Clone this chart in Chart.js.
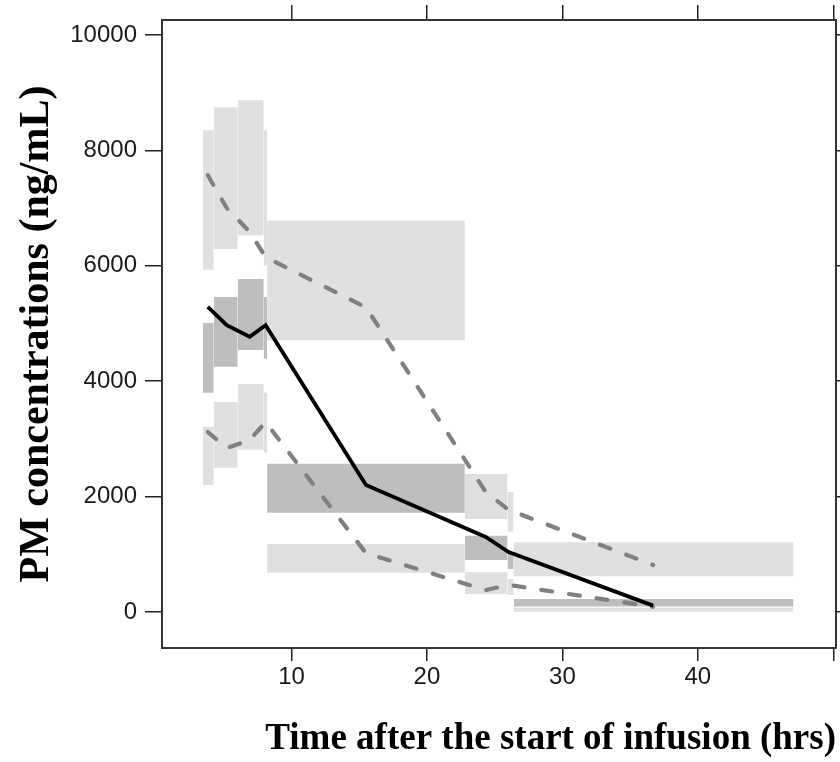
<!DOCTYPE html>
<html>
<head>
<meta charset="utf-8">
<script src="https://cdn.jsdelivr.net/npm/chart.js@4.4.1/dist/chart.umd.min.js"></script>
<style>
  html, body { margin: 0; padding: 0; background: #fff; }
</style>
</head>
<body>
<canvas id="vpcChart" width="840" height="762"></canvas>
<script>
// time bins (hrs)
const binStart = [3.46, 4.26, 6.03, 7.95, 8.2, 22.8, 25.95, 26.4];
const binEnd   = [4.26, 6.03, 7.95, 8.2, 22.8, 25.95, 26.4, 47.06];

// CI of simulated 95th percentile
const upperCiHi = [8350, 8750, 8870, 8350, 6780, 2390, 2080, 1210];
const upperCiLo = [5930, 6290, 6530, 6000, 4710, 1610, 1390, 620];
// CI of simulated median
const medianCiHi = [5010, 5460, 5770, 5460, 2570, 1320, 1020, 225];
const medianCiLo = [3800, 4250, 4540, 4390, 1720, 900, 745, 95];
// CI of simulated 5th percentile
const lowerCiHi = [3210, 3640, 3950, 3800, 1180, 690, 570, 75];
const lowerCiLo = [2200, 2500, 2810, 2760, 680, 310, 295, 5];

// observed percentiles
const obsTime   = [3.82, 5.22, 6.91, 8.09, 15.5, 24.34, 26.03, 36.7];
const obsP95    = [7570, 7000, 6590, 6150, 5280, 2080, 1770, 815];
const obsMedian = [5290, 4970, 4770, 4970, 2200, 1300, 1040, 110];
const obsP5     = [3120, 2840, 2980, 3290, 1020, 380, 470, 90];

// axis ticks
const xTicks = [10, 20, 30, 40, 50];
const xTickLabels = ['10', '20', '30', '40', ''];
const yTicks = [0, 2000, 4000, 6000, 8000, 10000];

const lightGrey = 'rgb(224,224,224)';
const darkGrey = 'rgb(190,190,190)';

const datasets = [];
function toPoints(xs, ys) {
    return xs.map((x, i) => ({ x: x, y: ys[i] }));
}
// observed lines on top
datasets.push({
    data: toPoints(obsTime, obsMedian),
    borderColor: '#000', borderWidth: 3.8,
    pointRadius: 0, showLine: true, fill: false, order: 0
});
[obsP95, obsP5].forEach(vals => {
    datasets.push({
        data: toPoints(obsTime, vals),
        borderColor: 'rgb(128,128,128)', borderWidth: 4.2,
        borderDash: [11, 17], borderCapStyle: 'round',
        pointRadius: 0, showLine: true, fill: false, order: 1
    });
});
// shaded boxes
function addBoxes(lo, hi, colour) {
    binStart.forEach((s, i) => {
        datasets.push({
            data: [{ x: s, y: hi[i] }, { x: binEnd[i], y: hi[i] }],
            fill: { value: lo[i] },
            backgroundColor: colour,
            borderColor: 'transparent', borderWidth: 0,
            pointRadius: 0, showLine: true, order: 2
        });
    });
}
addBoxes(upperCiLo, upperCiHi, lightGrey);
addBoxes(medianCiLo, medianCiHi, darkGrey);
addBoxes(lowerCiLo, lowerCiHi, lightGrey);

const xMin = 0.44, xMax = 50.2;
const yMin = -624, yMax = 10260;

const gridOpts = {
    drawOnChartArea: false, drawTicks: true, tickLength: 15,
    color: '#222', lineWidth: 1.5
};
const borderOpts = { display: true, color: '#333', width: 2 };

const ctx = document.getElementById('vpcChart');
const vpcChart = new Chart(ctx, {
    type: 'scatter',
    data: { datasets: datasets },
    options: {
        responsive: false,
        animation: false,
        layout: { padding: 0 },
        plugins: {
            legend: { display: false },
            tooltip: { enabled: false }
        },
        scales: {
            x: {
                type: 'linear', position: 'bottom', min: xMin, max: xMax,
                afterBuildTicks: s => { s.ticks = xTicks.map(v => ({ value: v })); },
                afterFit: s => { s.height = 114; s.paddingLeft = 0; s.paddingRight = 0; },
                grid: Object.assign({}, gridOpts, { tickLength: 13 }),
                border: borderOpts,
                ticks: {
                    padding: 2, color: '#1a1a1a',
                    font: { family: 'Liberation Sans', size: 24 },
                    callback: (v, i) => xTickLabels[i]
                },
                title: {
                    display: true, align: 'end',
                    text: 'Time after the start of infusion (hrs)',
                    color: '#000', padding: { top: 0, bottom: 0 },
                    font: { family: 'Liberation Serif', weight: 'bold', size: 37 }
                }
            },
            x2: {
                type: 'linear', position: 'top', min: xMin, max: xMax,
                afterBuildTicks: s => { s.ticks = xTicks.map(v => ({ value: v })); },
                afterFit: s => { s.height = 20; },
                grid: gridOpts, border: borderOpts,
                ticks: { display: false }
            },
            y: {
                type: 'linear', position: 'left', min: yMin, max: yMax,
                afterBuildTicks: s => { s.ticks = yTicks.map(v => ({ value: v })); },
                afterFit: s => { s.width = 162; s.paddingTop = 0; s.paddingBottom = 0; },
                grid: Object.assign({}, gridOpts, { tickLength: 17 }),
                border: borderOpts,
                ticks: {
                    padding: 8, color: '#1a1a1a',
                    font: { family: 'Liberation Sans', size: 24 },
                    callback: v => String(v)
                },
                title: {
                    display: true,
                    text: 'PM concentrations (ng/mL)',
                    color: '#000', padding: { top: 12, bottom: 0 },
                    font: { family: 'Liberation Serif', weight: 'bold', size: 42 }
                }
            },
            y2: {
                type: 'linear', position: 'right', min: yMin, max: yMax,
                afterBuildTicks: s => { s.ticks = yTicks.map(v => ({ value: v })); },
                afterFit: s => { s.width = 4; s.paddingTop = 0; s.paddingBottom = 0; },
                grid: gridOpts, border: borderOpts,
                ticks: { display: false }
            }
        }
    }
});
</script>
</body>
</html>
